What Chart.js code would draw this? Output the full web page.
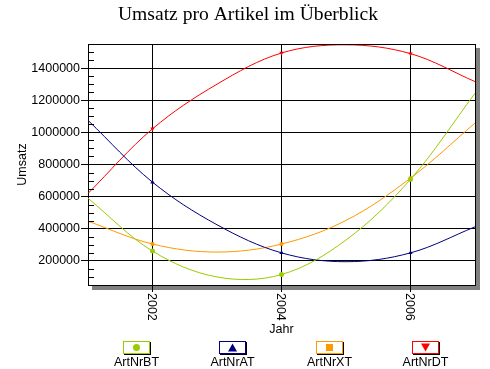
<!DOCTYPE html>
<html><head><meta charset="utf-8">
<script src="https://cdn.jsdelivr.net/npm/chart.js@4.4.1/dist/chart.umd.min.js"></script>
<style>html,body{margin:0;padding:0;background:#fff;}canvas{display:block;}</style>
</head><body>
<canvas id="c" width="490" height="369"></canvas>
<script>
// ---- data ----
const years = [2001, 2002, 2003, 2004, 2005, 2006, 2007];
const xTickLabels = [2002, 2004, 2006];
const yTickLabels = [200000, 400000, 600000, 800000, 1000000, 1200000, 1400000];
const seriesNames = ['ArtNrBT', 'ArtNrAT', 'ArtNrXT', 'ArtNrDT'];
const artNrBT = [590000, 261000, 100000, 115000, 330000, 708000, 1243000];
const artNrAT = [1075000, 690000, 425000, 250000, 195000, 250000, 412000];
const artNrXT = [447000, 305000, 255000, 305000, 452000, 715000, 1058000];
const artNrDT = [620000, 1022000, 1300000, 1494000, 1545000, 1490000, 1316000];
const titleText = 'Umsatz pro Artikel im Überblick';
const xTitle = 'Jahr';
const yTitle = 'Umsatz';

// ---- styles ----
const colors = ['#99CC00', '#000080', '#FF9900', '#FF0000'];
const shapes = ['circle', 'triangle', 'rect', 'triangleDown'];
const SANS = '"Liberation Sans", Arial, sans-serif';
const SERIF = '"Liberation Serif", "Times New Roman", serif';
const FONT_PX = 12.5;

function toPoints(arr) { return years.map((y, i) => ({x: y, y: arr[i]})); }
const seriesValues = [artNrBT, artNrAT, artNrXT, artNrDT];

const datasets = seriesNames.map((name, k) => ({
  label: name,
  data: toPoints(seriesValues[k]),
  borderColor: colors[k],
  backgroundColor: colors[k],
  borderWidth: 1,
  tension: 0.35,
  pointStyle: shapes[k] === 'triangleDown' ? 'triangle' : shapes[k],
  rotation: shapes[k] === 'triangleDown' ? 180 : 0,
  pointRadius: ctx => (xTickLabels.includes(years[ctx.dataIndex]) ? 2.5 : 0),
  pointHoverRadius: 0,
  pointBorderWidth: 0
}));

const framePlugin = {
  id: 'frame',
  beforeDraw(chart) {
    const {ctx, chartArea: a} = chart;
    ctx.save();
    ctx.fillStyle = '#ffffff';
    ctx.fillRect(0, 0, chart.width, chart.height);
    ctx.fillStyle = '#808080';
    ctx.fillRect(a.left + 4, a.top + 4, a.right - a.left + 1, a.bottom - a.top + 1);
    ctx.fillStyle = '#ffffff';
    ctx.fillRect(a.left, a.top, a.right - a.left + 1, a.bottom - a.top + 1);
    ctx.restore();
  },
  afterDraw(chart) {
    const {ctx, chartArea: a} = chart;
    const ys = chart.scales.y, xs = chart.scales.x;
    ctx.save();
    // title
    ctx.fillStyle = '#000';
    ctx.font = '19.6px ' + SERIF;
    ctx.textAlign = 'center';
    ctx.textBaseline = 'alphabetic';
    ctx.fillText(titleText, 248, 20);
    ctx.strokeStyle = '#000';
    ctx.lineWidth = 1;
    ctx.beginPath();
    ctx.moveTo(a.left, a.top + 0.5); ctx.lineTo(a.right + 1, a.top + 0.5);
    ctx.moveTo(a.right + 0.5, a.top); ctx.lineTo(a.right + 0.5, a.bottom + 1);
    // minor ticks (inward) on y axis
    for (let v = ys.min + 50000; v < ys.max; v += 50000) {
      if (v % 200000 === 0) continue;
      const py = Math.round(ys.getPixelForValue(v)) + 0.5;
      ctx.moveTo(a.left, py); ctx.lineTo(a.left + 6, py);
    }
    ctx.stroke();
    // x tick labels, rotated clockwise
    ctx.fillStyle = '#000';
    ctx.font = FONT_PX + 'px ' + SANS;
    ctx.textAlign = 'left';
    ctx.textBaseline = 'middle';
    xTickLabels.forEach(v => {
      const px = xs.getPixelForValue(v);
      ctx.save();
      ctx.translate(px - 1, a.bottom + 8);
      ctx.rotate(Math.PI / 2);
      ctx.fillText(String(v), 0, 0);
      ctx.restore();
    });
    // legend
    const cx0 = 136.5, step = 96.4, boxW = 27, boxH = 13, boxTop = 341;
    chart.data.datasets.forEach((ds, k) => {
      const cx = cx0 + k * step;
      const bl = Math.round(cx - boxW / 2);
      ctx.fillStyle = '#000';
      ctx.fillRect(bl + 1, boxTop + 1, boxW, boxH);
      ctx.fillStyle = '#fff';
      ctx.fillRect(bl, boxTop, boxW, boxH);
      ctx.strokeStyle = colors[k];
      ctx.strokeRect(bl + 0.5, boxTop + 0.5, boxW - 1, boxH - 1);
      const my = boxTop + boxH / 2;
      const mx = bl + boxW / 2;
      ctx.fillStyle = colors[k];
      ctx.beginPath();
      if (shapes[k] === 'circle') {
        ctx.arc(mx, my, 3.5, 0, Math.PI * 2);
      } else if (shapes[k] === 'triangle') {
        ctx.moveTo(mx, my - 4); ctx.lineTo(mx + 4.5, my + 4); ctx.lineTo(mx - 4.5, my + 4); ctx.closePath();
      } else if (shapes[k] === 'rect') {
        ctx.rect(mx - 3.5, my - 3.5, 7, 7);
      } else {
        ctx.moveTo(mx - 4.5, my - 4); ctx.lineTo(mx + 4.5, my - 4); ctx.lineTo(mx, my + 4); ctx.closePath();
      }
      ctx.fill();
      ctx.fillStyle = '#000';
      ctx.textAlign = 'center';
      ctx.textBaseline = 'middle';
      ctx.fillText(ds.label, mx, 363);
    });
    ctx.restore();
  }
};

new Chart(document.getElementById('c'), {
  type: 'line',
  data: {datasets},
  plugins: [framePlugin],
  options: {
    responsive: false,
    animation: false,
    devicePixelRatio: 1,
    layout: {padding: {left: 0, right: 15, top: 44, bottom: 0}},
    plugins: {
      legend: {display: false},
      tooltip: {enabled: false},
      title: {display: false}
    },
    scales: {
      x: {
        type: 'linear',
        min: 2001, max: 2007,
        afterBuildTicks: s => { s.ticks = xTickLabels.map(v => ({value: v})); },
        afterFit: s => { s.height = 84; },
        ticks: {display: false},
        grid: {color: '#000', lineWidth: 1, tickLength: 7, drawTicks: true},
        border: {display: true, color: '#000', width: 1},
        title: {display: true, text: xTitle, color: '#000',
          font: {family: SANS, size: FONT_PX}, padding: {top: 0, bottom: 32}}
      },
      y: {
        type: 'linear',
        min: 50000, max: 1550000,
        afterBuildTicks: s => { s.ticks = yTickLabels.map(v => ({value: v})); },
        afterFit: s => { s.width = 88; },
        ticks: {color: '#000', padding: 1, font: {family: SANS, size: FONT_PX},
          callback: v => String(v)},
        grid: {color: '#000', lineWidth: 1, tickLength: 7},
        border: {display: true, color: '#000', width: 1},
        title: {display: true, text: yTitle, color: '#000',
          font: {family: SANS, size: FONT_PX}, padding: {top: 15, bottom: 0}}
      }
    }
  }
});
</script>
</body></html>
